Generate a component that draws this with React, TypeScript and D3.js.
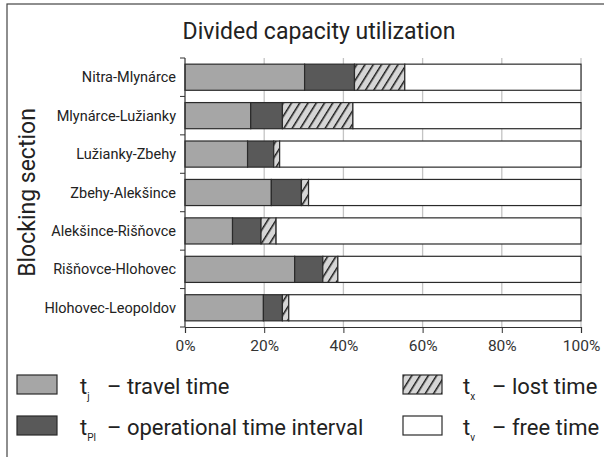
import React, { useEffect, useRef } from 'react';
import * as d3 from 'd3';

const sections = [
	'Nitra-Mlynárce',
	'Mlynárce-Lužianky',
	'Lužianky-Zbehy',
	'Zbehy-Alekšince',
	'Alekšince-Rišňovce',
	'Rišňovce-Hlohovec',
	'Hlohovec-Leopoldov',
];
// shares in %
const travelTime = [30.2, 16.6, 15.8, 21.8, 12.0, 27.7, 19.8];
const operationalInterval = [12.6, 8.0, 6.6, 7.6, 7.2, 7.1, 4.8];
const lostTime = [12.7, 17.8, 1.5, 1.8, 3.8, 3.8, 1.6];
const freeTime = sections.map((_, i) => 100 - travelTime[i] - operationalInterval[i] - lostTime[i]);
const xTicks = [0, 20, 40, 60, 80, 100];

const seriesKeys = ['tj', 'tPl', 'tx', 'tv'];
const legendItems = [
	{ key: 'tj', sub: 'j', label: '– travel time' },
	{ key: 'tPl', sub: 'Pl', label: '– operational time interval' },
	{ key: 'tx', sub: 'x', label: '– lost time' },
	{ key: 'tv', sub: 'v', label: '– free time' },
];

const width = 604;
const height = 457;
const margin = { top: 58, right: 24, bottom: 130, left: 185 };
const font = 'Roboto, "Liberation Sans", sans-serif';

export default function App() {
	const ref = useRef<SVGSVGElement>(null);

	useEffect(() => {
		const svg = d3.select(ref.current);
		svg.selectAll('*').remove();
		svg.style('font-family', font);

		const fills: Record<string, string> = {
			tj: '#a6a6a6',
			tPl: '#595959',
			tx: 'url(#hatch)',
			tv: '#ffffff',
		};

		// hatch pattern for lost time
		const defs = svg.append('defs');
		const pat = defs
			.append('pattern')
			.attr('id', 'hatch')
			.attr('patternUnits', 'userSpaceOnUse')
			.attr('width', 7)
			.attr('height', 7)
			.attr('patternTransform', 'rotate(32)');
		pat.append('rect').attr('width', 7).attr('height', 7).attr('fill', '#d6d6d6');
		pat.append('line').attr('x1', 0).attr('y1', 0).attr('x2', 0).attr('y2', 7).attr('stroke', '#1a1a1a').attr('stroke-width', 3);

		// outer frame
		svg.append('rect')
			.attr('x', 7)
			.attr('y', 4)
			.attr('width', width + 20)
			.attr('height', height + 20)
			.attr('fill', 'none')
			.attr('stroke', '#444')
			.attr('stroke-width', 1.2);

		const x = d3
			.scaleLinear()
			.domain([0, 100])
			.range([margin.left, width - margin.right + 1]);
		const y = d3
			.scaleBand()
			.domain(sections)
			.range([margin.top, height - margin.bottom])
			.paddingInner(0.32)
			.paddingOuter(0.16);
		const rowStep = y.step();

		svg.append('text')
			.attr('x', 319)
			.attr('y', 39)
			.attr('text-anchor', 'middle')
			.attr('font-size', 23)
			.attr('fill', '#222')
			.text('Divided capacity utilization');

		// vertical grid
		svg.append('g')
			.selectAll('line')
			.data(xTicks.slice(1))
			.enter()
			.append('line')
			.attr('x1', d => x(d))
			.attr('x2', d => x(d))
			.attr('y1', margin.top)
			.attr('y2', height - margin.bottom)
			.attr('stroke', '#c4c4c4')
			.attr('stroke-width', 1.3);

		// stacked bars
		const rows = sections.map((s, i) => ({
			section: s,
			tj: travelTime[i],
			tPl: operationalInterval[i],
			tx: lostTime[i],
			tv: freeTime[i],
		}));
		const stacked = d3.stack<any>().keys(seriesKeys)(rows);

		svg.append('g')
			.selectAll('g')
			.data(stacked)
			.enter()
			.append('g')
			.attr('fill', d => fills[d.key])
			.selectAll('rect')
			.data(d => d)
			.enter()
			.append('rect')
			.attr('x', d => x(d[0]))
			.attr('width', d => x(d[1]) - x(d[0]))
			.attr('y', d => y(d.data.section) as number)
			.attr('height', y.bandwidth())
			.attr('stroke', '#2a2a2a')
			.attr('stroke-width', 1.2);

		// x axis
		const xAxis = d3
			.axisBottom(x)
			.tickValues(xTicks)
			.tickSize(6)
			.tickFormat(d => `${d}%`);
		const gx = svg
			.append('g')
			.attr('transform', `translate(0,${height - margin.bottom})`)
			.call(xAxis);
		gx.select('.domain').attr('stroke', '#333').attr('stroke-width', 1.2);
		gx.selectAll('line').attr('stroke', '#333');
		gx.selectAll('text').attr('font-family', font).attr('font-size', 15.5).attr('fill', '#333').attr('dy', '0.95em');

		// y axis with ticks between categories
		svg.append('line')
			.attr('x1', margin.left)
			.attr('x2', margin.left)
			.attr('y1', margin.top)
			.attr('y2', height - margin.bottom)
			.attr('stroke', '#333')
			.attr('stroke-width', 1.2);
		svg.append('g')
			.selectAll('line')
			.data(d3.range(sections.length + 1))
			.enter()
			.append('line')
			.attr('x1', margin.left - 5)
			.attr('x2', margin.left)
			.attr('y1', i => margin.top + i * rowStep)
			.attr('y2', i => margin.top + i * rowStep)
			.attr('stroke', '#333');
		svg.append('g')
			.selectAll('text')
			.data(sections)
			.enter()
			.append('text')
			.attr('x', margin.left - 9)
			.attr('y', d => (y(d) as number) + y.bandwidth() / 2)
			.attr('dy', '0.35em')
			.attr('text-anchor', 'end')
			.attr('font-size', 14.5)
			.attr('fill', '#222')
			.text(d => d);

		// y title
		svg.append('text')
			.attr('transform', `translate(35,${(margin.top + height - margin.bottom) / 2}) rotate(-90)`)
			.attr('text-anchor', 'middle')
			.attr('font-size', 23)
			.attr('fill', '#222')
			.text('Blocking section');

		// legend
		const legendPos = [
			{ x: 17, y: 375 },
			{ x: 17, y: 416 },
			{ x: 403, y: 375 },
			{ x: 403, y: 416 },
		];
		const lg = svg
			.append('g')
			.selectAll('g')
			.data(legendItems)
			.enter()
			.append('g')
			.attr('transform', (d, i) => `translate(${legendPos[i].x},${legendPos[i].y})`);
		lg.append('rect')
			.attr('width', d => (d.key === 'tv' || d.key === 'tx' ? 39 : 40))
			.attr('height', 19)
			.attr('fill', d => fills[d.key])
			.attr('stroke', '#2a2a2a')
			.attr('stroke-width', 1.2);
		const lt = lg
			.append('text')
			.attr('x', (d, i) => (i < 2 ? 63 : 60))
			.attr('y', 19)
			.attr('font-size', 22)
			.attr('fill', '#222');
		lt.append('tspan').text('t');
		lt.append('tspan').attr('font-size', 10).attr('dy', 6).text(d => d.sub);
		lt.append('tspan')
			.attr('x', (d, i) => (i < 2 ? 90 : 89))
			.attr('dy', -6)
			.text(d => d.label);
	}, []);

	return (
		<div style={{ position: 'absolute', left: 0, top: 0 }}>
			<svg ref={ref} width={width} height={height} style={{ display: 'block' }} />
		</div>
	);
}
